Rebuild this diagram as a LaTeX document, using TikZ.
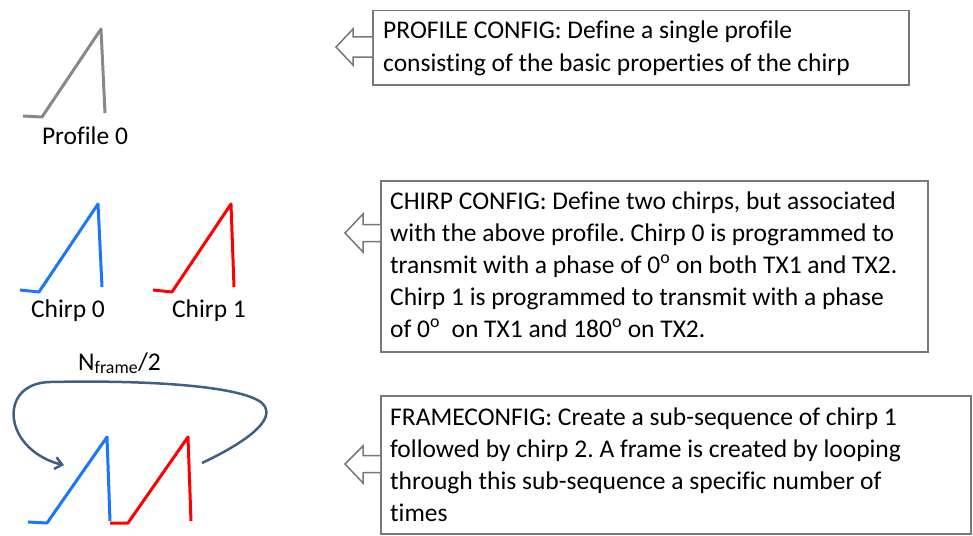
\documentclass[tikz,border=0pt]{standalone}
\usepackage{fontspec}
\setmainfont{Carlito}[Ligatures=NoCommon]
\usetikzlibrary{calc,arrows.meta}
\definecolor{chblue}{RGB}{26,117,255}
\definecolor{chred}{RGB}{255,0,0}
\definecolor{chgray}{RGB}{136,136,136}
\definecolor{loopc}{RGB}{62,96,131}
\definecolor{boxc}{RGB}{120,120,120}
\frenchspacing
\begin{document}
\begin{tikzpicture}[x=1pt,y=-1pt,
  every node/.style={font=\fontsize{25.5}{32}\selectfont},
  cfgbox/.style={draw=boxc,line width=1.5pt,inner sep=0pt,anchor=north west},
  txt/.style={anchor=base west,inner sep=0pt},
  hollow/.style={draw=boxc,line width=1.5pt,fill=white,line join=miter},
  chirpline/.style={line width=3pt,line join=round},
  lbl/.style={inner sep=0pt,anchor=base}]
\useasboundingbox (0,0) rectangle (973,535);
% boxes
\node[cfgbox,minimum width=536pt,minimum height=74pt] (b1) at (372,10) {};
\node[cfgbox,minimum width=547pt,minimum height=171pt] (b2) at (380,180) {};
\node[cfgbox,minimum width=590pt,minimum height=138pt] (b3) at (380,395) {};
% texts
\node[txt] (t1a) at (383,38) {PROFILE CONFIG: Define a single profile};
\node[txt] (t1b) at (383,71) {consisting of the basic properties of the chirp};
\node[txt] (t2a) at (390,209) {CHIRP CONFIG: Define two chirps, but associated};
\node[txt] (t2b) at (390,241) {with the above profile. Chirp 0 is programmed to};
\node[txt] (t2c) at (390,273) {transmit with a phase of 0\textsuperscript{o} on both TX1 and TX2.};
\node[txt] (t2d) at (390,305) {Chirp 1 is programmed to transmit with a phase};
\node[txt] (t2e) at (390,337) {of 0\textsuperscript{o}\ \ on TX1 and 180\textsuperscript{o} on TX2.};
\node[txt] (t3a) at (390,425) {FRAMECONFIG: Create a sub-sequence of chirp 1};
\node[txt] (t3b) at (390,457) {followed by chirp 2. A frame is created by looping};
\node[txt] (t3c) at (390,489) {through this sub-sequence a specific number of};
\node[txt] (t3d) at (390,521) {times};
% hollow arrows
\coordinate (a1) at (b1.west|-0,47);
\draw[hollow] (a1) ++(0,-10) -- (353,37) -- (353,29) -- (336,47) -- (353,65) -- (353,57) -- (a1|-0,57);
\coordinate (a2) at (b2.west|-0,233);
\draw[hollow] (a2) ++(0,-8.5) -- (363,224.5) -- (363,214) -- (345,233) -- (363,252) -- (363,241.5) -- (a2|-0,241.5);
\coordinate (a3) at (b3.west|-0,464);
\draw[hollow] (a3) ++(0,-8.5) -- (363,455.5) -- (363,446) -- (345,464) -- (363,483) -- (363,472.5) -- (a3|-0,472.5);
% profile
\draw[chirpline,chgray] (23,116) -- (42,117) -- (101,29) -- (105,113);
\node[lbl] (p0) at (85,144) {Profile 0};
% chirps
\draw[chirpline,chblue] (20,290) -- (39,292) -- (98,204) -- (102,287);
\node[lbl] (c0) at (68,317) {Chirp 0};
\draw[chirpline,chred] (153,290) -- (172,292) -- (231,204) -- (234,287);
\node[lbl] (c1) at (209,317) {Chirp 1};
% frame
\draw[chirpline,chblue] (28,522) -- (47,523) -- (107,437) -- (110,521);
\draw[chirpline,chred] (110,523) -- (128,523) -- (188,437) -- (191,521);
\node[txt] (nf) at (78,370) {N\textsubscript{frame}/2};
\coordinate (ls) at (202,463);
\coordinate (le) at (64,465);
\draw[loopc,line width=2.5pt,-{Straight Barb[length=7pt,width=12pt,line width=2.5pt]}]
 (ls) .. controls (240,445) and (280,420) .. (262,403)
 .. controls (240,385) and (140,380) .. (50,382)
 .. controls (10,383) and (5,420) .. (25,443)
 .. controls (35,455) and (50,462) .. (le);
\end{tikzpicture}
\end{document}
